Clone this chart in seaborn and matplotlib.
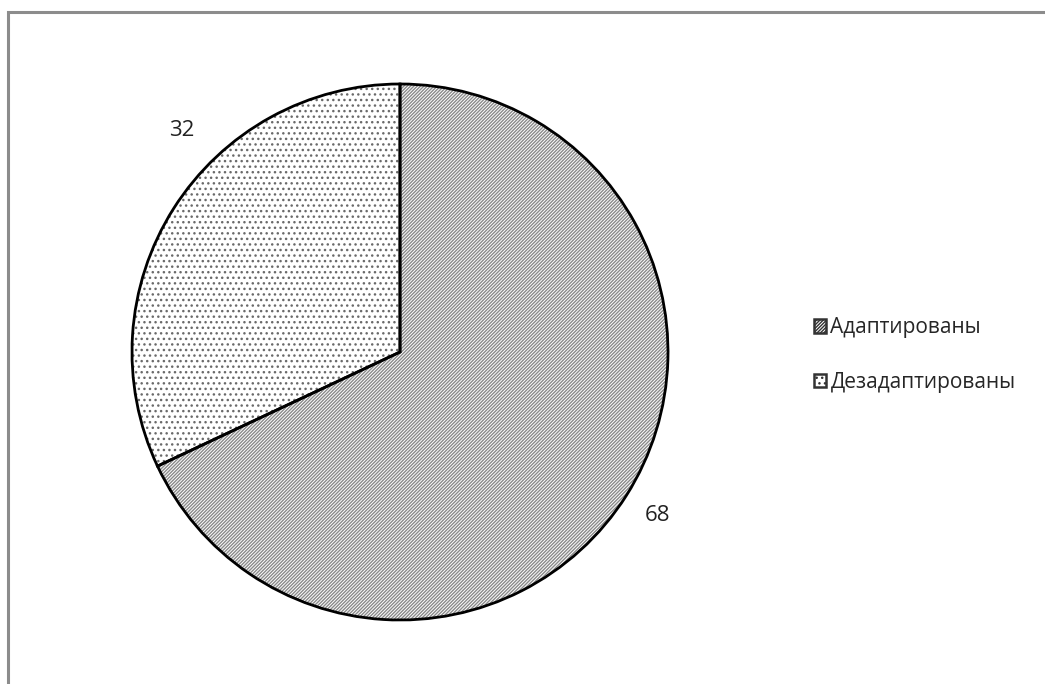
import matplotlib
matplotlib.use("Agg")
import numpy as np
import matplotlib.pyplot as plt
import matplotlib.patches as mpatches
import seaborn as sns

# данные
labels = ['Адаптированы', 'Дезадаптированы']
values = [68, 32]
hatches = ['//////////', '...']
hatch_colors = ['#8a8a8a', '#6a6a6a']

sns.set_theme(style='white')
plt.rcParams['font.family'] = ['Open Sans', 'DejaVu Sans']
plt.rcParams['hatch.linewidth'] = 1.0

fig = plt.figure(figsize=(10.45, 6.84), dpi=100)
ax = fig.add_axes([132 / 1045, 64 / 684, 536 / 1045, 536 / 684])

# сначала штриховка, потом контур
wedges, _ = ax.pie(values, startangle=90, counterclock=False,
                   colors=['white', 'white'],
                   wedgeprops=dict(linewidth=0))
for w, h, c in zip(wedges, hatches, hatch_colors):
    w.set_hatch(h)
    w.set_edgecolor(c)

wedges2, texts = ax.pie(values, startangle=90, counterclock=False,
                        labels=[str(v) for v in values], labeldistance=1.14,
                        wedgeprops=dict(fill=False, edgecolor='black', linewidth=2),
                        textprops=dict(fontsize=16, color='#222222'))
for t in texts:
    t.set_ha('center')
    t.set_va('center')
    t.set_clip_on(False)

# подпись малого сектора Excel ставит ближе к верху ("best fit")
t = texts[1]
x, y = t.get_position()
ang = np.arctan2(y, x) - np.deg2rad(13)
r = 1.16
t.set_position((r * np.cos(ang), r * np.sin(ang)))

ax.set_xlim(-1, 1)
ax.set_ylim(-1, 1)
ax.axis('off')

handles = [mpatches.Patch(facecolor='white', edgecolor=c, hatch=h)
           for h, c in zip(hatches, hatch_colors)]
leg = fig.legend(handles, labels, loc='center left',
                 bbox_to_anchor=(795 / 1045, 1 - 355 / 684),
                 frameon=False, fontsize=15, handlelength=0.6,
                 handleheight=0.6, handletextpad=0.2, labelspacing=1.6)
for p in leg.get_patches():
    p.set_linewidth(1.8)
    p.set_edgecolor('#333333')

# рамка области диаграммы (видны только верх и левый край)
fig.add_artist(mpatches.Rectangle((8 / 1045, -0.1), 1.2, 1.1 - 12 / 684,
                                  transform=fig.transFigure, fill=False,
                                  edgecolor='#8c8c8c', linewidth=2.2))

fig.savefig('out.png', dpi=100)
